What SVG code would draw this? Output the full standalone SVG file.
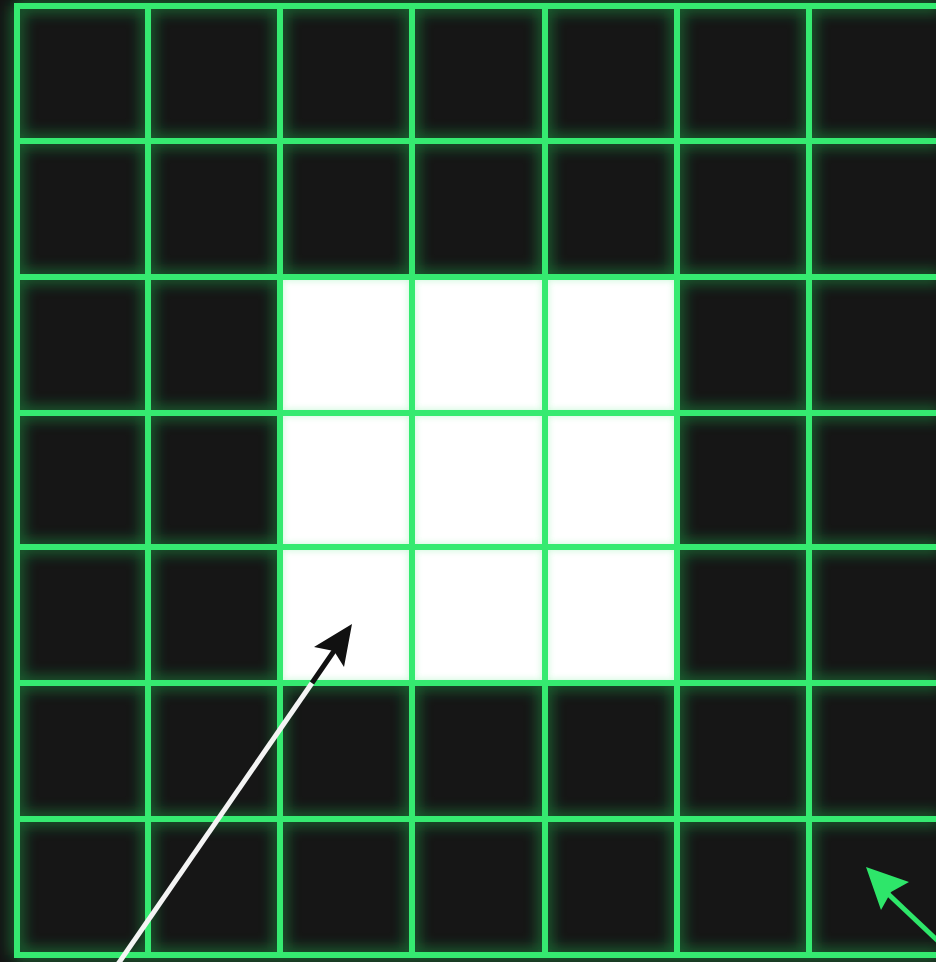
<svg xmlns="http://www.w3.org/2000/svg" width="936" height="962" viewBox="0 0 936 962">
  <defs>
    <style>
      .grid { stroke: #36ea70; stroke-width: 6; stroke-linecap: square; }
      .glow { stroke: #1c9a44; stroke-width: 14; opacity: 0.55; }
      .lightglow { stroke: #7ef0a0; stroke-width: 8; opacity: 0.35; }
    </style>
    <filter id="blur" x="-10%" y="-10%" width="120%" height="120%">
      <feGaussianBlur stdDeviation="7"/>
    </filter>
    <filter id="blur2" x="-10%" y="-10%" width="120%" height="120%">
      <feGaussianBlur stdDeviation="3"/>
    </filter>
    <filter id="soft" x="-10%" y="-10%" width="120%" height="120%">
      <feGaussianBlur stdDeviation="0.6"/>
    </filter>
    <clipPath id="litclip">
      <rect x="280" y="277" width="397" height="406"/>
    </clipPath>
    <g id="lines">
      <line x1="17" y1="6" x2="17" y2="955"/>
      <line x1="148" y1="6" x2="148" y2="955"/>
      <line x1="280" y1="6" x2="280" y2="955"/>
      <line x1="412" y1="6" x2="412" y2="955"/>
      <line x1="545" y1="6" x2="545" y2="955"/>
      <line x1="677" y1="6" x2="677" y2="955"/>
      <line x1="809" y1="6" x2="809" y2="955"/>
      <line x1="17" y1="6" x2="940" y2="6"/>
      <line x1="17" y1="141" x2="940" y2="141"/>
      <line x1="17" y1="277" x2="940" y2="277"/>
      <line x1="17" y1="413" x2="940" y2="413"/>
      <line x1="17" y1="547" x2="940" y2="547"/>
      <line x1="17" y1="683" x2="940" y2="683"/>
      <line x1="17" y1="819" x2="940" y2="819"/>
      <line x1="17" y1="955" x2="940" y2="955"/>
    </g>
  </defs>
  <rect width="936" height="962" fill="#141414"/>
  <rect id="board" x="17" y="6" width="930" height="960" fill="#161616"/>
  <g class="glow" filter="url(#blur)"><use href="#lines"/></g>
  <rect id="lit-cells" x="280" y="277" width="397" height="406" fill="#ffffff"/>
  <g class="lightglow" filter="url(#blur2)" clip-path="url(#litclip)"><use href="#lines"/></g>
  <g id="grid" class="grid" filter="url(#soft)"><use href="#lines"/></g>
  <g id="connectors">
    <line id="pointer-white" x1="118" y1="964" x2="312" y2="683" stroke="#f4f4f4" stroke-width="5"/>
    <line id="pointer-black" x1="312" y1="683" x2="336" y2="648" stroke="#111111" stroke-width="5"/>
    <polygon points="352,624 314,647 334,651 344,667" fill="#111111"/>
    <line id="green-pointer" x1="938" y1="941" x2="885" y2="891" stroke="#2ee66a" stroke-width="5"/>
    <polygon points="866,867 909,882 891,892 881,910" fill="#2ee66a"/>
  </g>
</svg>
